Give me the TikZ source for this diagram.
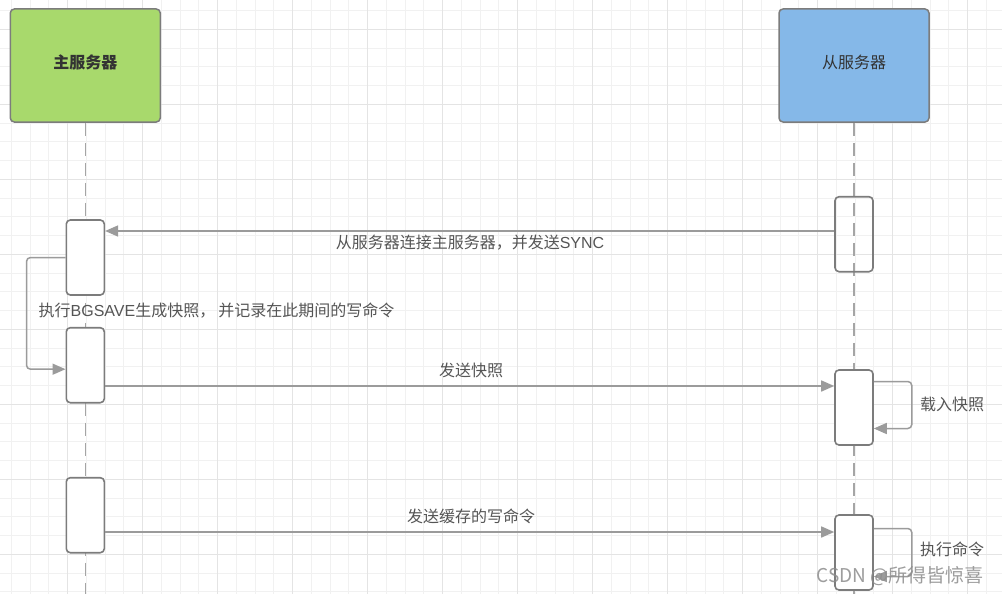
\documentclass[tikz,border=0pt]{standalone}
\usepackage{xcolor}
\usepackage{fontspec}
\newfontfamily\cjk{Noto Sans CJK SC}
\newfontfamily\lat{Liberation Sans}
\usetikzlibrary{arrows.meta}

\definecolor{gridminor}{HTML}{F1F1F1}
\definecolor{gridmajor}{HTML}{E4E4E4}
\definecolor{boxgray}{HTML}{7C7C7C}
\definecolor{linegray}{HTML}{9B9B9B}
\definecolor{textgray}{HTML}{555555}
\definecolor{mastergreen}{HTML}{A8D96C}
\definecolor{slaveblue}{HTML}{85B8E8}

\tikzset{
  actor/.style={draw=boxgray, line width=1.5pt, rounded corners=4pt,
    minimum width=150pt, minimum height=113pt, text depth=8pt,
    font=\cjk\bfseries\fontsize{16}{18}\selectfont, text=black!80},
  act/.style={draw=boxgray, line width=1.6pt, rounded corners=4pt, fill=white,
    minimum width=38pt, minimum height=75pt, inner sep=0pt},
  lifeline/.style={draw=linegray!90, line width=1.5pt, dash pattern=on 13pt off 7pt},
  msg/.style={draw=linegray, line width=1.5pt, -{Triangle[length=13pt,width=11pt]}},
  lbl/.style={font=\cjk\fontsize{16}{18}\selectfont, text=textgray, inner sep=1pt}
}

\begin{document}
\begin{tikzpicture}[x=1pt,y=-1pt]
          \useasboundingbox[fill=white] (0,0) rectangle (1002,594);

          % grid
          \foreach \i in {0,...,52}
            \draw[gridminor, line width=1pt] ({11.25+18.75*\i},0) -- ({11.25+18.75*\i},594);
          \foreach \i in {0,...,31}
            \draw[gridminor, line width=1pt] (0,{10.55+18.75*\i}) -- (1002,{10.55+18.75*\i});
          \foreach \i in {0,...,12}
            \draw[gridmajor, line width=1pt] ({67.5+75*\i},0) -- ({67.5+75*\i},594);
          \foreach \i in {0,...,7}
            \draw[gridmajor, line width=1pt] (0,{29.3+75*\i}) -- (1002,{29.3+75*\i});

          \coordinate (bottom) at (0,594);
          \coordinate (y1) at (0,231);
          \coordinate (y2) at (0,386);
          \coordinate (y3) at (0,532);

          \node[actor, fill=mastergreen] (M) at (85.3,65.5) {主服务器};
          \node[actor, fill=slaveblue, font=\cjk\fontsize{16}{18}\selectfont] (S) at (854,65.5) {从服务器};

          \draw[lifeline] (M.south) -- (M.south |- bottom);
          \draw[lifeline] (S.south) -- (S.south |- bottom);

          \node[act] (M1) at (85.3,257.5) {};
          \node[act] (M2) at (85.3,365.2) {};
          \node[act] (M3) at (85.3,515.2) {};
          \node[act, fill=none] (S1) at (854,234.2) {};
          \node[act] (S2) at (854,407.5) {};
          \node[act] (S3) at (854,552.5) {};

          \draw[msg] (S1.west |- y1) -- (M1.east |- y1);
          \draw[msg, rounded corners=4pt] (M1.west) -- ++(-39,0) |- ([yshift=-4pt]M2.west);
          \draw[msg] (M2.east |- y2) -- (S2.west |- y2);
          \draw[msg, rounded corners=4pt] ([yshift=26pt]S2.east) -- ++(38,0) |- ([yshift=-21pt]S2.east);
          \draw[msg] (M3.east |- y3) -- (S3.west |- y3);
          \draw[msg, rounded corners=4pt] ([yshift=24pt]S3.east) -- ++(38,0) |- ([yshift=-24pt]S3.east);

          \node[lbl] (L1) at (470,243) {从服务器连接主服务器，并发送{\lat SYNC}};
          \node[lbl] (L2) at (216.5,311) {执行{\lat BGSAVE}生成快照，\hspace{3pt}并记录在此期间的写命令};
          \node[lbl] (L3) at (471,370) {发送快照};
          \node[lbl] (L4) at (952,404) {载入快照};
          \node[lbl] (L5) at (471,516) {发送缓存的写命令};
          \node[lbl] (L6) at (952,549) {执行命令};

          \node[font=\cjk\fontsize{19}{19}\selectfont, text=black!45, opacity=.85] (W) at (900,576) {CSDN @所得皆惊喜};
\end{tikzpicture}
\end{document}
